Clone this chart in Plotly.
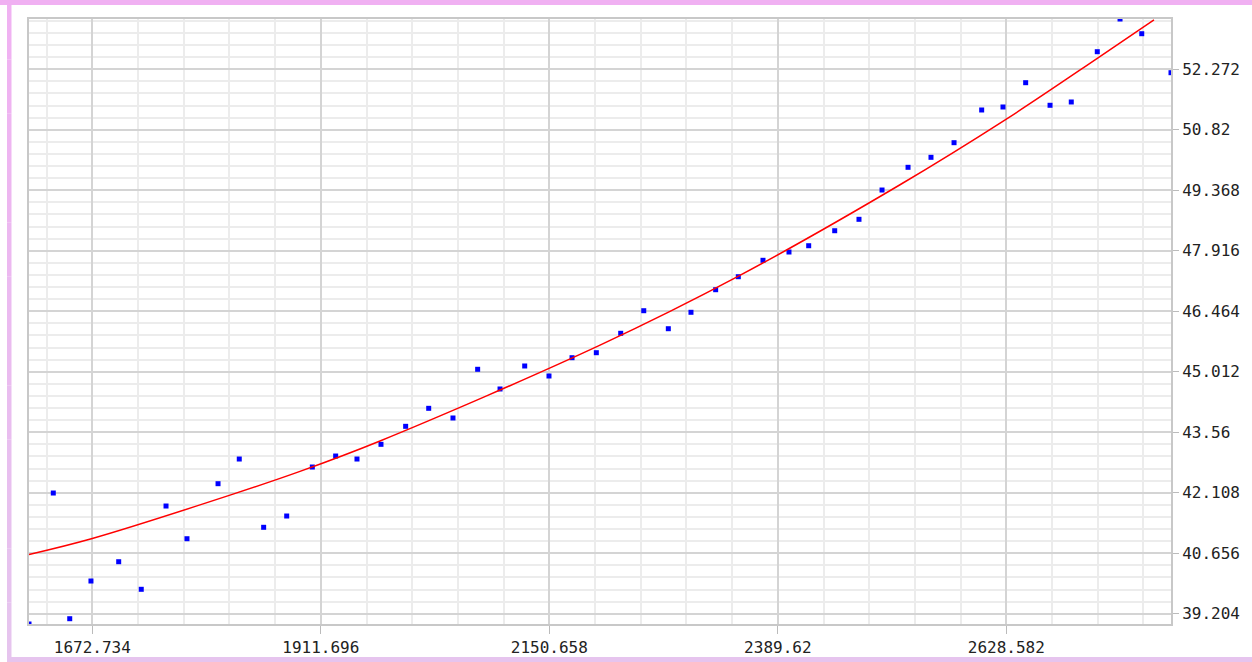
import numpy as np
import plotly.graph_objects as go

# ---- data ----
x_vals = [1606.5, 1631.9, 1649.1, 1671.3, 1700.3, 1723.9, 1749.8, 1771.7, 1804.2, 1826.4,
          1851.9, 1876.0, 1902.8, 1927.2, 1949.5, 1974.6, 2000.4, 2024.5, 2049.9, 2075.7,
          2099.1, 2124.9, 2150.3, 2174.4, 2199.8, 2225.3, 2249.4, 2275.1, 2298.8, 2324.6,
          2348.3, 2374.1, 2401.3, 2421.9, 2449.1, 2474.5, 2498.6, 2525.8, 2549.8, 2573.9,
          2602.8, 2625.1, 2648.8, 2674.3, 2696.5, 2723.7, 2747.5, 2770.2, 2800.8]
y_vals = [38.957, 42.101, 39.084, 39.989, 40.452, 39.790, 41.789, 41.004, 42.325, 42.917,
          41.278, 41.549, 42.725, 42.989, 42.917, 43.270, 43.702, 44.134, 43.902, 45.071,
          44.598, 45.150, 44.910, 45.349, 45.469, 45.935, 46.477, 46.045, 46.439, 46.981,
          47.293, 47.687, 47.886, 48.037, 48.397, 48.671, 49.374, 49.919, 50.159, 50.510,
          51.295, 51.367, 51.950, 51.408, 51.487, 52.694, 53.479, 53.126, 52.190]

# red trend curve at several positions
trend_x = [1606.5, 1672.7, 1816.7, 1889.9, 1973.6, 2203.7, 2348.0, 2517.4, 2628.2, 2724.1, 2783.0]
trend_y = [40.626, 41.01, 42.05, 42.62, 43.35, 45.65, 47.30, 49.50, 51.07, 52.54, 53.46]

x_tick_vals = [1672.734, 1911.696, 2150.658, 2389.62, 2628.582]
x_tick_text = ["1672.734", "1911.696", "2150.658", "2389.62", "2628.582"]
y_tick_vals = [39.204, 40.656, 42.108, 43.56, 45.012, 46.464, 47.916, 49.368, 50.82, 52.272]
y_tick_text = ["39.204", "40.656", "42.108", "43.56", "45.012", "46.464", "47.916",
               "49.368", "50.82", "52.272"]

fig = go.Figure()
fig.add_trace(go.Scatter(
    x=x_vals, y=y_vals, mode="markers",
    marker=dict(symbol="square", size=5, color="#0000ff", line=dict(width=0)),
    showlegend=False, hoverinfo="x+y"))
fig.add_trace(go.Scatter(
    x=trend_x, y=trend_y, mode="lines",
    line=dict(color="#ff0000", width=1.5, shape="spline", smoothing=1.0),
    showlegend=False, hoverinfo="skip"))

font = dict(family="DejaVu Sans Mono", size=16, color="#222222")

fig.update_layout(
    width=1252, height=662,
    margin=dict(l=29, r=81, t=19, b=38, pad=0),
    paper_bgcolor="white", plot_bgcolor="white",
    font=font,
    xaxis=dict(
        range=[min(x_vals), max(x_vals)], automargin=False,
        tickmode="array", tickvals=x_tick_vals, ticktext=x_tick_text,
        ticks="outside", ticklen=8, tickwidth=1, tickcolor="#bbbbbb",
        showgrid=True, gridcolor="#d4d4d4", gridwidth=1.5,
        minor=dict(tick0=1672.734, dtick=47.7924, showgrid=True,
                   gridcolor="#ececec", gridwidth=1.5, ticks=""),
        showline=True, linecolor="#c8c8c8", linewidth=2, mirror=True,
        zeroline=False, tickfont=font),
    yaxis=dict(
        range=[min(y_vals), max(y_vals)], side="right", automargin=False,
        tickmode="array", tickvals=y_tick_vals, ticktext=y_tick_text,
        ticks="outside", ticklen=6, tickwidth=1, tickcolor="#bbbbbb",
        showgrid=True, gridcolor="#d4d4d4", gridwidth=1.5,
        minor=dict(tick0=39.204, dtick=0.2904, showgrid=True,
                   gridcolor="#ececec", gridwidth=1.5, ticks=""),
        showline=True, linecolor="#c8c8c8", linewidth=2, mirror=True,
        zeroline=False, tickfont=font),
)

# pink frame around the page (paper coordinates relative to plot area)
W, H = 1142.0, 605.0
def px(x):
    return (x - 29) / W
def py(y):
    return (624 - y) / H

shapes = []
shapes.append(dict(type="rect", xref="paper", yref="paper",
                   x0=px(0), x1=px(1252), y0=py(5), y1=py(0),
                   fillcolor="#f0b0f2", line=dict(width=0), layer="above"))
n = 12
c_top = np.array([240, 178, 242])
c_bot = np.array([230, 196, 238])
for i in range(n):
    t = i / (n - 1)
    c = (c_top * (1 - t) + c_bot * t).astype(int)
    ya = 5 + (657 - 5) * i / n
    yb = 5 + (657 - 5) * (i + 1) / n
    shapes.append(dict(type="rect", xref="paper", yref="paper",
                       x0=px(7), x1=px(11.5), y0=py(yb), y1=py(ya),
                       fillcolor="rgb(%d,%d,%d)" % tuple(c), line=dict(width=0), layer="above"))
shapes.append(dict(type="rect", xref="paper", yref="paper",
                   x0=px(7), x1=px(1252), y0=py(662), y1=py(657),
                   fillcolor="#e6c4ee", line=dict(width=0), layer="above"))
fig.update_layout(shapes=shapes)

fig.write_html("out.html", config={"displayModeBar": False},
               post_script="document.body.style.margin='0px';")
